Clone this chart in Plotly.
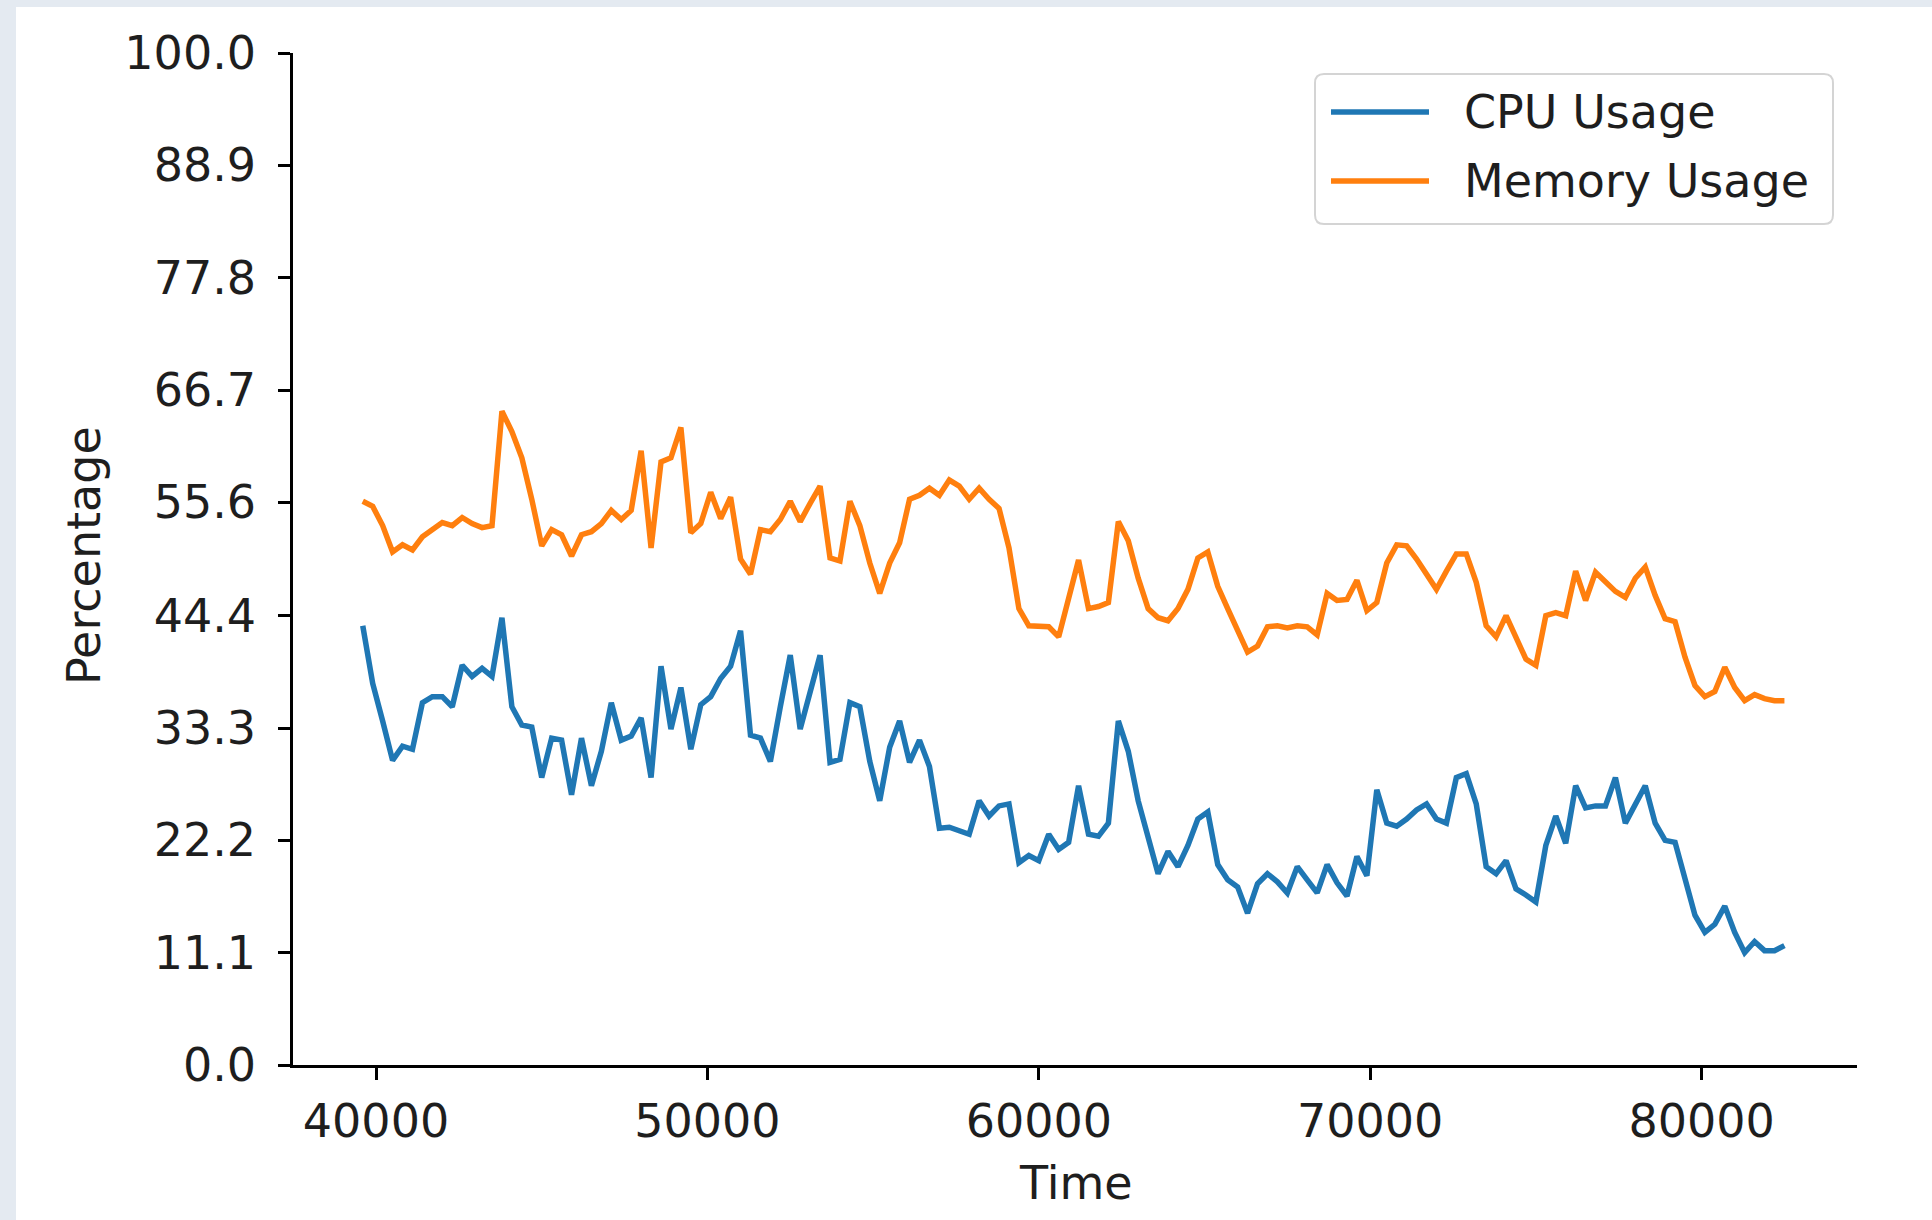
import plotly.graph_objects as go

# Sampling grid: one reading every 5 minutes (seconds since midnight)
time_s = list(range(39600, 82800, 300))

cpu_usage = [
    43.4, 37.7, 34.0, 30.1, 31.5, 31.2, 35.8, 36.4, 36.4, 35.4,
    39.5, 38.4, 39.2, 38.4, 44.2, 35.4, 33.6, 33.4, 28.4, 32.3,
    32.1, 26.7, 32.3, 27.6, 31.0, 35.8, 32.1, 32.5, 34.3, 28.4,
    39.4, 33.2, 37.3, 31.2, 35.6, 36.4, 38.2, 39.4, 42.9, 32.6,
    32.3, 30.0, 35.4, 40.5, 33.2, 36.9, 40.5, 29.9, 30.2, 35.8,
    35.4, 30.0, 26.1, 31.4, 34.0, 29.9, 32.1, 29.5, 23.4, 23.5,
    23.2, 22.8, 26.1, 24.6, 25.6, 25.8, 20.0, 20.7, 20.2, 22.8,
    21.3, 22.0, 27.6, 22.8, 22.6, 23.9, 34.0, 31.0, 26.1, 22.4,
    18.9, 21.1, 19.6, 21.7, 24.3, 25.0, 19.8, 18.3, 17.6, 15.0,
    17.9, 18.9, 18.1, 17.0, 19.6, 18.3, 17.0, 19.8, 18.0, 16.7,
    20.6, 18.7, 27.2, 23.9, 23.6, 24.3, 25.2, 25.8, 24.3, 23.9,
    28.4, 28.8, 25.8, 19.6, 18.9, 20.2, 17.4, 16.8, 16.1, 21.7,
    24.6, 21.9, 27.6, 25.4, 25.6, 25.6, 28.4, 23.9, 25.8, 27.6,
    23.9, 22.2, 22.0, 18.3, 14.8, 13.1, 13.9, 15.7, 13.1, 11.1,
    12.2, 11.3, 11.3, 11.8,
]

memory_usage = [
    55.7, 55.2, 53.3, 50.7, 51.4, 50.9, 52.2, 52.9, 53.6, 53.3,
    54.1, 53.5, 53.1, 53.3, 64.6, 62.6, 60.0, 55.9, 51.3, 52.9,
    52.4, 50.3, 52.4, 52.7, 53.5, 54.8, 53.9, 54.8, 60.7, 51.1,
    59.6, 60.0, 63.0, 52.6, 53.5, 56.6, 54.0, 56.1, 50.0, 48.5,
    52.9, 52.7, 53.9, 55.7, 53.7, 55.5, 57.2, 50.1, 49.8, 55.7,
    53.3, 49.6, 46.6, 49.6, 51.6, 55.9, 56.3, 57.0, 56.3, 57.8,
    57.2, 55.9, 57.0, 55.9, 55.0, 51.1, 45.1, 43.4, 43.3, 43.3,
    42.3, 45.9, 49.9, 45.1, 45.3, 45.7, 53.7, 51.8, 48.1, 45.1,
    44.2, 43.9, 45.1, 47.0, 50.1, 50.7, 47.3, 45.1, 42.9, 40.8,
    41.4, 43.3, 43.4, 43.2, 43.4, 43.3, 42.5, 46.6, 45.9, 46.0,
    47.9, 44.9, 45.7, 49.6, 51.4, 51.3, 50.0, 48.5, 47.0, 48.8,
    50.5, 50.5, 47.7, 43.4, 42.3, 44.4, 42.3, 40.1, 39.5, 44.4,
    44.7, 44.4, 48.8, 45.9, 48.7, 47.7, 46.8, 46.2, 48.1, 49.2,
    46.4, 44.1, 43.8, 40.3, 37.5, 36.4, 36.9, 39.3, 37.3, 36.0,
    36.6, 36.2, 36.0, 36.0,
]

y_ticks = [0.0, 11.1, 22.2, 33.3, 44.4, 55.6, 66.7, 77.8, 88.9, 100.0]
y_tick_labels = ["0.0", "11.1", "22.2", "33.3", "44.4", "55.6", "66.7", "77.8", "88.9", "100.0"]
x_ticks = [40000, 50000, 60000, 70000, 80000]
x_tick_labels = ["40000", "50000", "60000", "70000", "80000"]

series_names = ["CPU Usage", "Memory Usage"]
series_colors = ["#1f77b4", "#ff7f0e"]

W, H = 1932, 1220
L, R, T, B = 293, 1857, 53, 1065  # plot area in pixels
FONT = "DejaVu Sans"
FS = 46
INK = "#1e1e1e"


def px(x):
    return (x - L) / (R - L)


def py(y):
    return (B - y) / (B - T)


fig = go.Figure()
for name, vals, col in zip(series_names, [cpu_usage, memory_usage], series_colors):
    fig.add_trace(go.Scatter(x=time_s, y=vals, mode="lines", name=name,
                             line=dict(color=col, width=5.5), showlegend=False))

axis_common = dict(showline=True, linecolor="#000000", linewidth=2.5,
                   ticks="outside", ticklen=12, tickwidth=2.5, tickcolor="#000000",
                   showgrid=False, zeroline=False, mirror=False,
                   tickfont=dict(family=FONT, size=FS, color=INK))

fig.update_xaxes(range=[37495, 84690], tickvals=x_ticks, ticktext=x_tick_labels,
                 ticklabelstandoff=2, **axis_common)
fig.update_yaxes(range=[0, 100], tickvals=y_ticks, ticktext=y_tick_labels,
                 ticklabelstandoff=13, **axis_common)

shapes = [
    # pale frame bands along the left and top edges
    dict(type="rect", xref="paper", yref="paper", x0=px(0), x1=px(16), y0=py(H), y1=py(0),
         fillcolor="#e4eaf1", line=dict(width=0), layer="below"),
    dict(type="rect", xref="paper", yref="paper", x0=px(0), x1=px(W), y0=py(7), y1=py(0),
         fillcolor="#e4eaf1", line=dict(width=0), layer="below"),
]

# legend box with rounded corners
bx0, bx1, by0, by1, r = 1315, 1833, 74, 224, 9
path = (f"M{px(bx0 + r)},{py(by0)} L{px(bx1 - r)},{py(by0)} "
        f"Q{px(bx1)},{py(by0)} {px(bx1)},{py(by0 + r)} "
        f"L{px(bx1)},{py(by1 - r)} Q{px(bx1)},{py(by1)} {px(bx1 - r)},{py(by1)} "
        f"L{px(bx0 + r)},{py(by1)} Q{px(bx0)},{py(by1)} {px(bx0)},{py(by1 - r)} "
        f"L{px(bx0)},{py(by0 + r)} Q{px(bx0)},{py(by0)} {px(bx0 + r)},{py(by0)} Z")
shapes.append(dict(type="path", xref="paper", yref="paper", path=path,
                   fillcolor="rgba(255,255,255,0.85)", line=dict(color="#d4d4d4", width=2)))

annotations = []
for k, (name, col) in enumerate(zip(series_names, series_colors)):
    yy = 112 + 69 * k
    shapes.append(dict(type="line", xref="paper", yref="paper",
                       x0=px(1331), x1=px(1429), y0=py(yy), y1=py(yy),
                       line=dict(color=col, width=5.5)))
    annotations.append(dict(xref="paper", yref="paper", x=px(1462), y=py(yy),
                            text=name, showarrow=False, xanchor="left", yanchor="middle",
                            font=dict(family=FONT, size=FS, color=INK)))

annotations.append(dict(xref="paper", yref="paper", x=px(84), y=py(556), text="Percentage",
                        textangle=-90, showarrow=False, xanchor="center", yanchor="middle",
                        font=dict(family=FONT, size=FS, color=INK)))
annotations.append(dict(xref="paper", yref="paper", x=px(1076), y=py(1183), text="Time",
                        showarrow=False, xanchor="center", yanchor="middle",
                        font=dict(family=FONT, size=FS, color=INK)))

fig.update_layout(width=W, height=H,
                  margin=dict(l=L, r=W - R, t=T, b=H - B, pad=0),
                  paper_bgcolor="#ffffff", plot_bgcolor="rgba(0,0,0,0)",
                  shapes=shapes, annotations=annotations)

fig.write_html("out.html")
